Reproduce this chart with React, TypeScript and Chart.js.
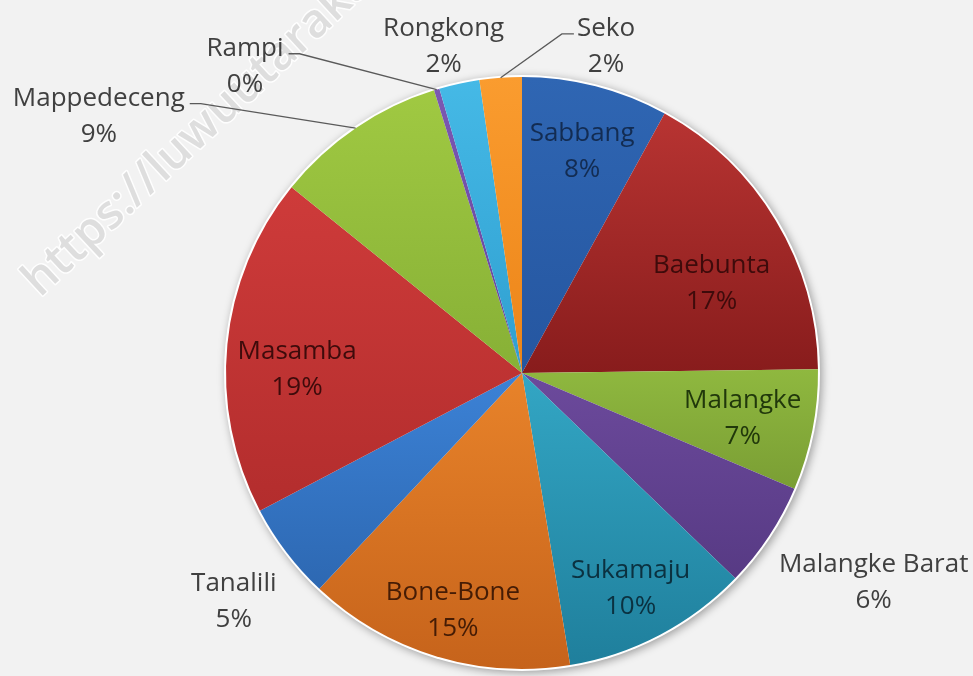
import React, { useEffect, useRef } from "react";
import { Chart, registerables } from "chart.js";

Chart.register(...registerables);

// ---- data ----
const categories = [
  "Sabbang",
  "Baebunta",
  "Malangke",
  "Malangke Barat",
  "Sukamaju",
  "Bone-Bone",
  "Tanalili",
  "Masamba",
  "Mappedeceng",
  "Rampi",
  "Rongkong",
  "Seko",
];
const shares = [8.0, 16.8, 6.6, 5.8, 10.2, 14.6, 5.3, 18.5, 9.4, 0.3, 2.2, 2.3];

// ---- styles ----
const topColors = [
  "#2F66B3", "#B83432", "#8FB83F", "#6C4A9C", "#33A6C4", "#E8832A",
  "#3C82D6", "#CE3B3A", "#A0C942", "#7C58B2", "#45B9E6", "#FA9C2F",
];
const bottomColors = [
  "#2556A0", "#881C1C", "#7A9E34", "#573A84", "#1F7F9C", "#C6631B",
  "#2D68B2", "#B32D2D", "#87B036", "#64449A", "#2F9FD0", "#EC8418",
];
const insideTextColors = [
  "#132C52", "#3E0B0B", "#21380B", "#2A1545", "#0B3140", "#451C05",
  "#0F2A50", "#3E0B0B", "#21380B", "#2A1545", "#0B3140", "#451C05",
];
const outsideTextColor = "#404040";
const leaderColor = "#5A5A5A";
const labelFont = "26px 'Open Sans'";
const watermarkText = "https://luwuutarakab.go.id";

// label placement: inside / outside, radius fraction, angle offset (deg), leader side
const labelPlacement = [
  { pos: "in", r: 0.78, da: 0.7 },
  { pos: "in", r: 0.71, da: 5.4 },
  { pos: "in", r: 0.76, da: 0 },
  { pos: "out", r: 1.38, da: -2.9 },
  { pos: "in", r: 0.81, da: 0.8 },
  { pos: "in", r: 0.83, da: -0.6 },
  { pos: "out", r: 1.24, da: -1 },
  { pos: "in", r: 0.76, da: -4.3 },
  { pos: "out", r: 1.675, da: -24.4, leader: "right" },
  { pos: "out", r: 1.4, da: -25.2, leader: "right" },
  { pos: "out", r: 1.139, da: -1.2 },
  { pos: "out", r: 1.144, da: 18.5, leader: "left" },
];

function percentLabel(i: number) {
  const total = shares.reduce((a, b) => a + b, 0);
  return Math.round((shares[i] / total) * 100 + 1e-9) + "%";
}

const backgroundPlugin = {
  id: "bgAndWatermark",
  beforeDraw(chart: any) {
    const ctx = chart.ctx as CanvasRenderingContext2D;
    ctx.save();
    ctx.fillStyle = "#F2F2F2";
    ctx.fillRect(0, 0, chart.width, chart.height);
    // watermark
    ctx.translate(40, 298);
    ctx.rotate((-43 * Math.PI) / 180);
    ctx.font = "600 47px 'Open Sans'";
    ctx.textBaseline = "alphabetic";
    ctx.lineJoin = "round";
    ctx.strokeStyle = "rgba(255,255,255,0.9)";
    ctx.lineWidth = 3;
    ctx.strokeText(watermarkText, 0, 0);
    ctx.fillStyle = "#DEDEDE";
    ctx.fillText(watermarkText, 0, 0);
    ctx.restore();
  },
  beforeDatasetsDraw(chart: any) {
    const meta = chart.getDatasetMeta(0);
    const arc = meta.data[0];
    if (!arc) return;
    const { x, y, outerRadius } = arc.getProps(["x", "y", "outerRadius"], true);
    const ctx = chart.ctx as CanvasRenderingContext2D;
    ctx.save();
    ctx.shadowColor = "rgba(0,0,0,0.35)";
    ctx.shadowBlur = 8;
    ctx.shadowOffsetX = 2;
    ctx.shadowOffsetY = 2;
    ctx.beginPath();
    ctx.arc(x, y, outerRadius + 2, 0, Math.PI * 2);
    ctx.fillStyle = "#FFFFFF";
    ctx.fill();
    ctx.restore();
  },
};

const labelPlugin = {
  id: "pieLabels",
  afterDatasetsDraw(chart: any) {
    const ctx = chart.ctx as CanvasRenderingContext2D;
    const meta = chart.getDatasetMeta(0);
    ctx.save();
    ctx.font = labelFont;
    ctx.textAlign = "center";
    ctx.textBaseline = "alphabetic";
    meta.data.forEach((arc: any, i: number) => {
      const { x, y, startAngle, endAngle, outerRadius } = arc.getProps(
        ["x", "y", "startAngle", "endAngle", "outerRadius"],
        true
      );
      const mid = (startAngle + endAngle) / 2;
      const p: any = labelPlacement[i];
      const a = mid + (p.da * Math.PI) / 180;
      const cx = x + Math.cos(a) * outerRadius * p.r;
      const cy = y + Math.sin(a) * outerRadius * p.r;
      const line1 = categories[i];
      const line2 = percentLabel(i);
      const b1 = cy - 9;
      const b2 = cy + 27;
      ctx.fillStyle = p.pos === "in" ? insideTextColors[i] : outsideTextColor;
      ctx.fillText(line1, cx, b1);
      ctx.fillText(line2, cx, b2);
      if (p.leader) {
        const w = ctx.measureText(line1).width;
        const ex = x + Math.cos(mid) * outerRadius;
        const ey = y + Math.sin(mid) * outerRadius;
        const ly = b1 - 2;
        let sx: number, kx: number;
        if (p.leader === "right") {
          sx = cx + w / 2 + 5;
          kx = sx + 11;
        } else {
          sx = cx - w / 2 - 3;
          kx = sx - 12;
        }
        ctx.beginPath();
        ctx.moveTo(sx, ly);
        ctx.lineTo(kx, ly);
        ctx.lineTo(ex, ey);
        ctx.strokeStyle = leaderColor;
        ctx.lineWidth = 1.3;
        ctx.stroke();
      }
    });
    ctx.restore();
  },
};

function sliceGradient(context: any) {
  const chart = context.chart;
  const i = context.dataIndex;
  const area = chart.chartArea;
  if (!area) return topColors[i];
  const cx = (area.left + area.right) / 2;
  const cy = (area.top + area.bottom) / 2;
  const r = Math.min(area.right - area.left, area.bottom - area.top) / 2;
  const total = shares.reduce((a, b) => a + b, 0);
  let before = 0;
  for (let k = 0; k < i; k++) before += shares[k];
  const t0 = (before / total) * 360;
  const t1 = ((before + shares[i]) / total) * 360;
  const ys = [cy, cy - r * Math.cos((t0 * Math.PI) / 180), cy - r * Math.cos((t1 * Math.PI) / 180)];
  if (t0 <= 0.001) ys.push(cy - r);
  if (t0 <= 180 && t1 >= 180) ys.push(cy + r);
  const yTop = Math.min(...ys);
  const yBot = Math.max(...ys);
  const g = chart.ctx.createLinearGradient(0, yTop, 0, Math.max(yBot, yTop + 1));
  g.addColorStop(0, topColors[i]);
  g.addColorStop(1, bottomColors[i]);
  return g;
}

export default function App() {
  const ref = useRef<HTMLCanvasElement>(null);
  useEffect(() => {
    const chart = new Chart(ref.current as HTMLCanvasElement, {
      type: "pie",
      data: {
        labels: categories,
        datasets: [
          {
            data: shares,
            backgroundColor: sliceGradient as any,
            borderWidth: 0,
          },
        ],
      },
      options: {
        responsive: false,
        animation: false,
        layout: { padding: { left: 226, right: 155, top: 77, bottom: 7 } },
        plugins: {
          legend: { display: false },
          tooltip: { enabled: false },
        },
      },
      plugins: [backgroundPlugin, labelPlugin],
    });
    return () => chart.destroy();
  }, []);
  return (
    <div
      style={{
        position: "fixed",
        left: 0,
        top: 0,
        width: 973,
        height: 676,
        background: "#F2F2F2",
        overflow: "hidden",
      }}
    >
      <canvas ref={ref} width={973} height={676} style={{ display: "block" }} />
    </div>
  );
}
